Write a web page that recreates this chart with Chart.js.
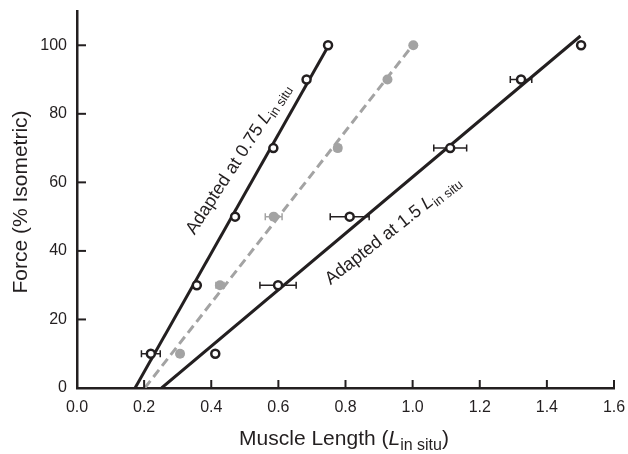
<!DOCTYPE html>
<html>
<head>
<meta charset="utf-8">
<script src="https://cdn.jsdelivr.net/npm/chart.js@4"></script>
<style>
  html, body { margin: 0; padding: 0; background: #fff; }
  #wrap { width: 628px; height: 454px; }
</style>
</head>
<body>
<div id="wrap"><canvas id="grafico" width="628" height="454"></canvas></div>
<script>
// Force levels (% isometric)
const forcas = [10, 30, 50, 70, 90, 100];

// Muscle length (L in situ) for each group
const adaptado075 = [0.220, 0.357, 0.471, 0.585, 0.684, 0.748];
const inSitu = [0.307, 0.426, 0.586, 0.777, 0.925, 1.002];
const adaptado15 = [0.412, 0.599, 0.8125, 1.112, 1.323, 1.502];

// Horizontal error (± L in situ)
const erro075 = [0.028, 0.006, 0.006, 0.006, 0.006, 0];
const erroInSitu = [0.008, 0.012, 0.025, 0.010, 0, 0];
const erro15 = [0.006, 0.054, 0.058, 0.049, 0.032, 0];

// Regression line end points
const retaX075 = [0.173, 0.75];
const retaY075 = [0, 100];
const retaXInSitu = [0.202, 1.0];
const retaYInSitu = [0, 100];
const retaX15 = [0.252, 1.5];
const retaY15 = [0, 102.7];

const xTicks = [0, 0.2, 0.4, 0.6, 0.8, 1.0, 1.2, 1.4, 1.6];
const yTicks = [0, 20, 40, 60, 80, 100];

const PRETO = '#231f20';
const CINZA = '#a3a3a3';
const FONTE = '"Liberation Sans", Arial, Helvetica, sans-serif';

const pontos = (xs, ys) => xs.map((x, i) => ({ x: x, y: ys[i] }));

// Barras de erro + ticks para dentro + textos
const extras = {
    id: 'extras',
    beforeDatasetsDraw(chart) {
        const ctx = chart.ctx;
        const sx = chart.scales.x, sy = chart.scales.y;
        const grupos = [
            { xs: adaptado075, err: erro075, cor: PRETO },
            { xs: inSitu, err: erroInSitu, cor: CINZA },
            { xs: adaptado15, err: erro15, cor: PRETO }
        ];
        ctx.save();
        ctx.lineWidth = 1.5;
        grupos.forEach(g => {
            ctx.strokeStyle = g.cor;
            g.xs.forEach((x, i) => {
                if (!g.err[i]) return;
                const py = sy.getPixelForValue(forcas[i]);
                const x1 = sx.getPixelForValue(x - g.err[i]);
                const x2 = sx.getPixelForValue(x + g.err[i]);
                ctx.beginPath();
                ctx.moveTo(x1, py); ctx.lineTo(x2, py);
                ctx.moveTo(x1, py - 3.5); ctx.lineTo(x1, py + 3.5);
                ctx.moveTo(x2, py - 3.5); ctx.lineTo(x2, py + 3.5);
                ctx.stroke();
            });
        });
        ctx.restore();
    },
    afterDraw(chart) {
        const ctx = chart.ctx;
        const sx = chart.scales.x, sy = chart.scales.y;
        const area = chart.chartArea;
        ctx.save();
        ctx.strokeStyle = PRETO;
        ctx.lineWidth = 2;
        xTicks.forEach(v => {
            const px = sx.getPixelForValue(v);
            ctx.beginPath();
            ctx.moveTo(px, area.bottom); ctx.lineTo(px, area.bottom - 8);
            ctx.stroke();
        });
        yTicks.forEach(v => {
            const py = sy.getPixelForValue(v);
            ctx.beginPath();
            ctx.moveTo(area.left, py); ctx.lineTo(area.left + 9, py);
            ctx.stroke();
        });

        // Titulos dos eixos
        ctx.fillStyle = PRETO;
        ctx.textBaseline = 'alphabetic';
        ctx.save();
        ctx.translate(27, 202);
        ctx.rotate(-Math.PI / 2);
        ctx.font = '21px ' + FONTE;
        ctx.textAlign = 'center';
        ctx.fillText('Force (% Isometric)', 0, 0);
        ctx.restore();

        desenhaRotulo(ctx, [
            { t: 'Muscle Length (', f: '21px ' + FONTE, dy: 0 },
            { t: 'L', f: 'italic 21px ' + FONTE, dy: 0 },
            { t: 'in situ', f: '16px ' + FONTE, dy: 5 },
            { t: ')', f: '21px ' + FONTE, dy: 0 }
        ], 344, 445, 0, true);

        // Rotulos das retas
        desenhaRotulo(ctx, [
            { t: 'Adapted at 0.75 ', f: '18px ' + FONTE, dy: 0 },
            { t: 'L', f: 'italic 18px ' + FONTE, dy: 0 },
            { t: 'in situ', f: '13px ' + FONTE, dy: 4 }
        ], sx.getPixelForValue(0.35), sy.getPixelForValue(44.5), -57, false);

        desenhaRotulo(ctx, [
            { t: 'Adapted at 1.5 ', f: '18px ' + FONTE, dy: 0 },
            { t: 'L', f: 'italic 18px ' + FONTE, dy: 0 },
            { t: 'in situ', f: '13px ' + FONTE, dy: 4 }
        ], sx.getPixelForValue(0.755), sy.getPixelForValue(30.0), -38, false);
        ctx.restore();
    }
};

function desenhaRotulo(ctx, partes, x, y, angulo, centrado) {
    ctx.save();
    ctx.translate(x, y);
    ctx.rotate(angulo * Math.PI / 180);
    ctx.textAlign = 'left';
    ctx.textBaseline = 'alphabetic';
    ctx.fillStyle = PRETO;
    let total = 0;
    partes.forEach(p => { ctx.font = p.f; total += ctx.measureText(p.t).width; });
    let cx = centrado ? -total / 2 : 0;
    partes.forEach(p => {
        ctx.font = p.f;
        ctx.fillText(p.t, cx, p.dy);
        cx += ctx.measureText(p.t).width;
    });
    ctx.restore();
}

const reta = (xs, ys, cor, tracejado) => ({
    type: 'line',
    data: pontos(xs, ys),
    borderColor: cor,
    borderWidth: 3,
    borderDash: tracejado ? [9, 5] : [],
    pointRadius: 0,
    showLine: true,
    fill: false,
    order: 2
});

const serie = (xs, aberto) => ({
    type: 'scatter',
    data: pontos(xs, forcas),
    pointRadius: aberto ? 4 : 5,
    pointBorderWidth: aberto ? 2.5 : 0,
    pointBackgroundColor: aberto ? '#ffffff' : CINZA,
    pointBorderColor: aberto ? PRETO : CINZA,
    order: 0
});

new Chart(document.getElementById('grafico'), {
    type: 'scatter',
    data: {
        datasets: [
            reta(retaX075, retaY075, PRETO, false),
            reta(retaXInSitu, retaYInSitu, CINZA, true),
            reta(retaX15, retaY15, PRETO, false),
            serie(adaptado075, true),
            serie(inSitu, false),
            serie(adaptado15, true)
        ]
    },
    options: {
        responsive: false,
        animation: false,
        events: [],
        layout: { padding: { top: 11, right: 14, left: 0, bottom: 0 } },
        plugins: { legend: { display: false }, tooltip: { enabled: false } },
        scales: {
            x: {
                type: 'linear',
                min: 0,
                max: 1.6,
                grid: { display: false, drawTicks: false },
                border: { display: true, color: PRETO, width: 2.5 },
                afterBuildTicks: s => { s.ticks = xTicks.map(v => ({ value: v })); },
                afterFit: s => { s.height = 66; s.paddingLeft = 0; s.paddingRight = 0; },
                ticks: {
                    padding: 10,
                    color: PRETO,
                    font: { family: FONTE, size: 16 },
                    maxRotation: 0,
                    callback: v => Number(v).toFixed(1)
                }
            },
            y: {
                type: 'linear',
                min: 0,
                max: 110,
                grid: { display: false, drawTicks: false },
                border: { display: true, color: PRETO, width: 2.5 },
                afterBuildTicks: s => { s.ticks = yTicks.map(v => ({ value: v })); },
                afterFit: s => { s.width = 77; s.paddingTop = 0; s.paddingBottom = 0; },
                ticks: {
                    padding: 10,
                    color: PRETO,
                    font: { family: FONTE, size: 16 },
                    callback: v => String(v)
                }
            }
        }
    },
    plugins: [extras]
});
</script>
</body>
</html>
